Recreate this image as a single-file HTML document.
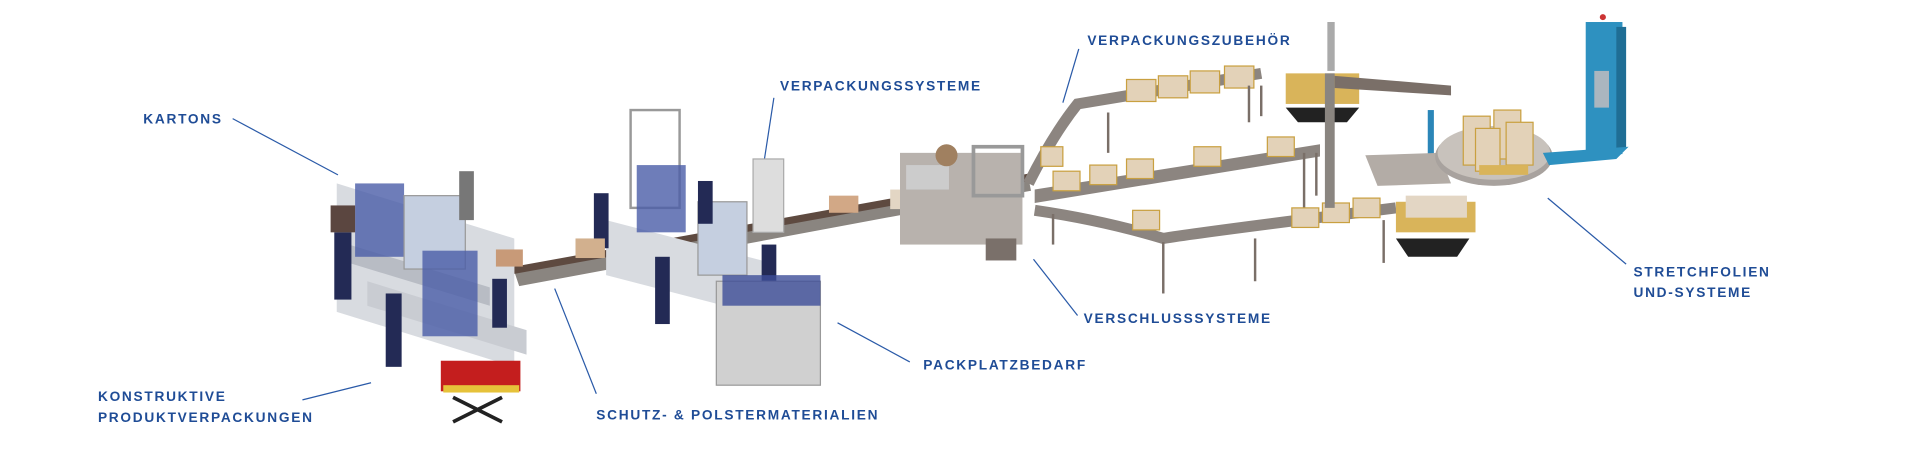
<!DOCTYPE html>
<html><head><meta charset="utf-8"><style>
html,body{margin:0;padding:0;background:#fff;}
svg{display:block;}
text{font-family:"Liberation Sans",sans-serif;font-weight:bold;fill:#1f4c96;font-size:11.2px;letter-spacing:1.4px;}
</style></head><body>
<svg width="1920" height="450" viewBox="0 0 1568 368" preserveAspectRatio="none" xmlns="http://www.w3.org/2000/svg">
<rect width="1568" height="368" fill="#fff"/>
<!-- connector lines -->
<g stroke="#2a5aa8" stroke-width="1" fill="none">
<line x1="190" y1="97" x2="276" y2="143"/>
<line x1="247" y1="327" x2="303" y2="313"/>
<line x1="453" y1="236" x2="487" y2="322"/>
<line x1="632" y1="80" x2="624" y2="132"/>
<line x1="684" y1="264" x2="743" y2="296"/>
<line x1="881" y1="40" x2="868" y2="84"/>
<line x1="844" y1="212" x2="880" y2="258"/>
<line x1="1264" y1="162" x2="1328" y2="216"/>
</g>
<!-- labels -->
<text x="117" y="101">KARTONS</text>
<text x="80" y="328">KONSTRUKTIVE</text>
<text x="80" y="345">PRODUKTVERPACKUNGEN</text>
<text x="487" y="343">SCHUTZ- &amp; POLSTERMATERIALIEN</text>
<text x="637" y="74">VERPACKUNGSSYSTEME</text>
<text x="754" y="302">PACKPLATZBEDARF</text>
<text x="888" y="37">VERPACKUNGSZUBEHÖR</text>
<text x="885" y="264">VERSCHLUSSSYSTEME</text>
<text x="1334" y="226">STRETCHFOLIEN</text>
<text x="1334" y="243">UND-SYSTEME</text>

<!-- main conveyor -->
<polygon points="420,222 840,146 842,156 424,234" fill="#8a8580"/>
<polygon points="420,218 840,142 840,148 420,224" fill="#5e4a40"/>
<!-- left cluster -->
<polygon points="275,150 420,195 420,300 275,255" fill="#d8dbe0"/>
<polygon points="285,200 400,235 400,250 285,215" fill="#b8bcc4"/>
<polygon points="300,230 430,270 430,290 300,250" fill="#c9ccd2"/>
<rect x="290" y="150" width="40" height="60" fill="#4a5da8" opacity="0.8"/>
<rect x="330" y="160" width="50" height="60" fill="#c5cfe0" stroke="#999"/>
<rect x="345" y="205" width="45" height="70" fill="#4a5da8" opacity="0.8"/>
<rect x="273" y="190" width="14" height="55" fill="#232a55"/>
<rect x="315" y="240" width="13" height="60" fill="#232a55"/>
<rect x="402" y="228" width="12" height="40" fill="#232a55"/>
<rect x="360" y="295" width="65" height="25" fill="#c41e1e"/>
<rect x="362" y="315" width="62" height="6" fill="#e6c23a"/>
<path d="M370,325 L410,345 M410,325 L370,345" stroke="#222" stroke-width="3"/>
<rect x="270" y="168" width="20" height="22" fill="#5b4640"/>
<rect x="375" y="140" width="12" height="40" fill="#777"/>
<!-- middle cluster -->
<polygon points="495,180 630,215 630,260 495,225" fill="#d8dbe0"/>
<rect x="515" y="90" width="40" height="80" fill="none" stroke="#999" stroke-width="2"/>
<rect x="520" y="135" width="40" height="55" fill="#4a5da8" opacity="0.8"/>
<rect x="570" y="165" width="40" height="60" fill="#c5cfe0" stroke="#999"/>
<rect x="485" y="158" width="12" height="45" fill="#232a55"/>
<rect x="570" y="148" width="12" height="35" fill="#232a55"/>
<rect x="535" y="210" width="12" height="55" fill="#232a55"/>
<rect x="622" y="200" width="12" height="35" fill="#232a55"/>
<rect x="585" y="230" width="85" height="85" fill="#d0d0d0" stroke="#999"/>
<rect x="590" y="225" width="80" height="25" fill="#3d4e99" opacity="0.8"/>
<rect x="615" y="130" width="25" height="60" fill="#ddd" stroke="#aaa"/>
<!-- boxes on main conveyor -->
<rect x="405" y="204" width="22" height="14" fill="#c89a78"/>
<rect x="470" y="195" width="24" height="16" fill="#d2b08e"/>
<rect x="677" y="160" width="24" height="14" fill="#d2a886"/>
<rect x="727" y="155" width="22" height="16" fill="#e3d6c4"/>
<!-- closing machine -->
<rect x="735" y="125" width="100" height="75" fill="#b8b2ad"/>
<rect x="740" y="135" width="35" height="20" fill="#ccc"/>
<circle cx="773" cy="127" r="9" fill="#a08060"/>
<rect x="795" y="120" width="40" height="40" fill="none" stroke="#999" stroke-width="3"/>
<rect x="805" y="195" width="25" height="18" fill="#7a706a"/>
<!-- upper conveyor -->
<path d="M840,150 Q860,110 880,85 L1030,60" stroke="#8c8580" stroke-width="9" fill="none"/>
<g fill="#e3d2b8" stroke="#c9a040" stroke-width="1">
<rect x="920" y="65" width="24" height="18"/><rect x="946" y="62" width="24" height="18"/><rect x="972" y="58" width="24" height="18"/><rect x="1000" y="54" width="24" height="18"/>
<rect x="850" y="120" width="18" height="16"/>
</g>
<g stroke="#7a6f68" stroke-width="2"><line x1="905" y1="92" x2="905" y2="125"/><line x1="1020" y1="70" x2="1020" y2="100"/><line x1="1030" y1="70" x2="1030" y2="95"/></g>
<!-- middle conveyor -->
<polygon points="845,155 1078,118 1078,128 845,166" fill="#8c8580"/>
<g fill="#e3d2b8" stroke="#c9a040" stroke-width="1">
<rect x="860" y="140" width="22" height="16"/><rect x="890" y="135" width="22" height="16"/><rect x="920" y="130" width="22" height="16"/><rect x="975" y="120" width="22" height="16"/><rect x="1035" y="112" width="22" height="16"/>
</g>
<g stroke="#7a6f68" stroke-width="2"><line x1="1065" y1="125" x2="1065" y2="170"/><line x1="1075" y1="125" x2="1075" y2="160"/></g>
<!-- lower conveyor -->
<path d="M845,172 Q900,180 950,195 Q980,190 1140,170" stroke="#8c8580" stroke-width="9" fill="none"/>
<g fill="#e3d2b8" stroke="#c9a040" stroke-width="1">
<rect x="925" y="172" width="22" height="16"/><rect x="1055" y="170" width="22" height="16"/><rect x="1080" y="166" width="22" height="16"/><rect x="1105" y="162" width="22" height="16"/>
</g>
<g stroke="#7a6f68" stroke-width="2"><line x1="860" y1="175" x2="860" y2="200"/><line x1="950" y1="198" x2="950" y2="240"/><line x1="1025" y1="195" x2="1025" y2="230"/><line x1="1130" y1="180" x2="1130" y2="215"/></g>
<!-- pallet lifts & gantry -->
<rect x="1050" y="60" width="60" height="25" fill="#d9b45a"/>
<polygon points="1050,88 1110,88 1100,100 1060,100" fill="#222"/>
<rect x="1140" y="165" width="65" height="25" fill="#d9b45a"/>
<rect x="1148" y="160" width="50" height="18" fill="#e3d6c4"/>
<polygon points="1140,195 1200,195 1190,210 1150,210" fill="#222"/>
<rect x="1082" y="60" width="8" height="110" fill="#8a8580"/>
<polygon points="1090,62 1185,70 1185,78 1090,72" fill="#7a6f68"/>
<rect x="1084" y="18" width="6" height="40" fill="#aaa"/>
<rect x="1166" y="90" width="5" height="60" fill="#2b86b8"/>
<!-- wrapper -->
<polygon points="1115,127 1175,125 1185,150 1125,152" fill="#b3aca6"/>
<ellipse cx="1220" cy="128" rx="48" ry="24" fill="#a8a29e"/>
<ellipse cx="1220" cy="125" rx="46" ry="22" fill="#c8c2bc"/>
<g fill="#e3d2b8" stroke="#c9a040" stroke-width="1">
<rect x="1195" y="95" width="22" height="40"/><rect x="1220" y="90" width="22" height="40"/><rect x="1205" y="105" width="20" height="35"/><rect x="1230" y="100" width="22" height="35"/>
</g>
<rect x="1208" y="135" width="40" height="8" fill="#d9b45a"/>
<rect x="1295" y="18" width="30" height="108" fill="#2e91c0"/>
<rect x="1320" y="22" width="8" height="100" fill="#1f6e95"/>
<rect x="1302" y="58" width="12" height="30" fill="#aab6bf"/>
<polygon points="1260,125 1330,120 1320,130 1265,135" fill="#2e91c0"/>
<circle cx="1309" cy="14" r="2.5" fill="#c33"/>
</svg>
</body></html>
